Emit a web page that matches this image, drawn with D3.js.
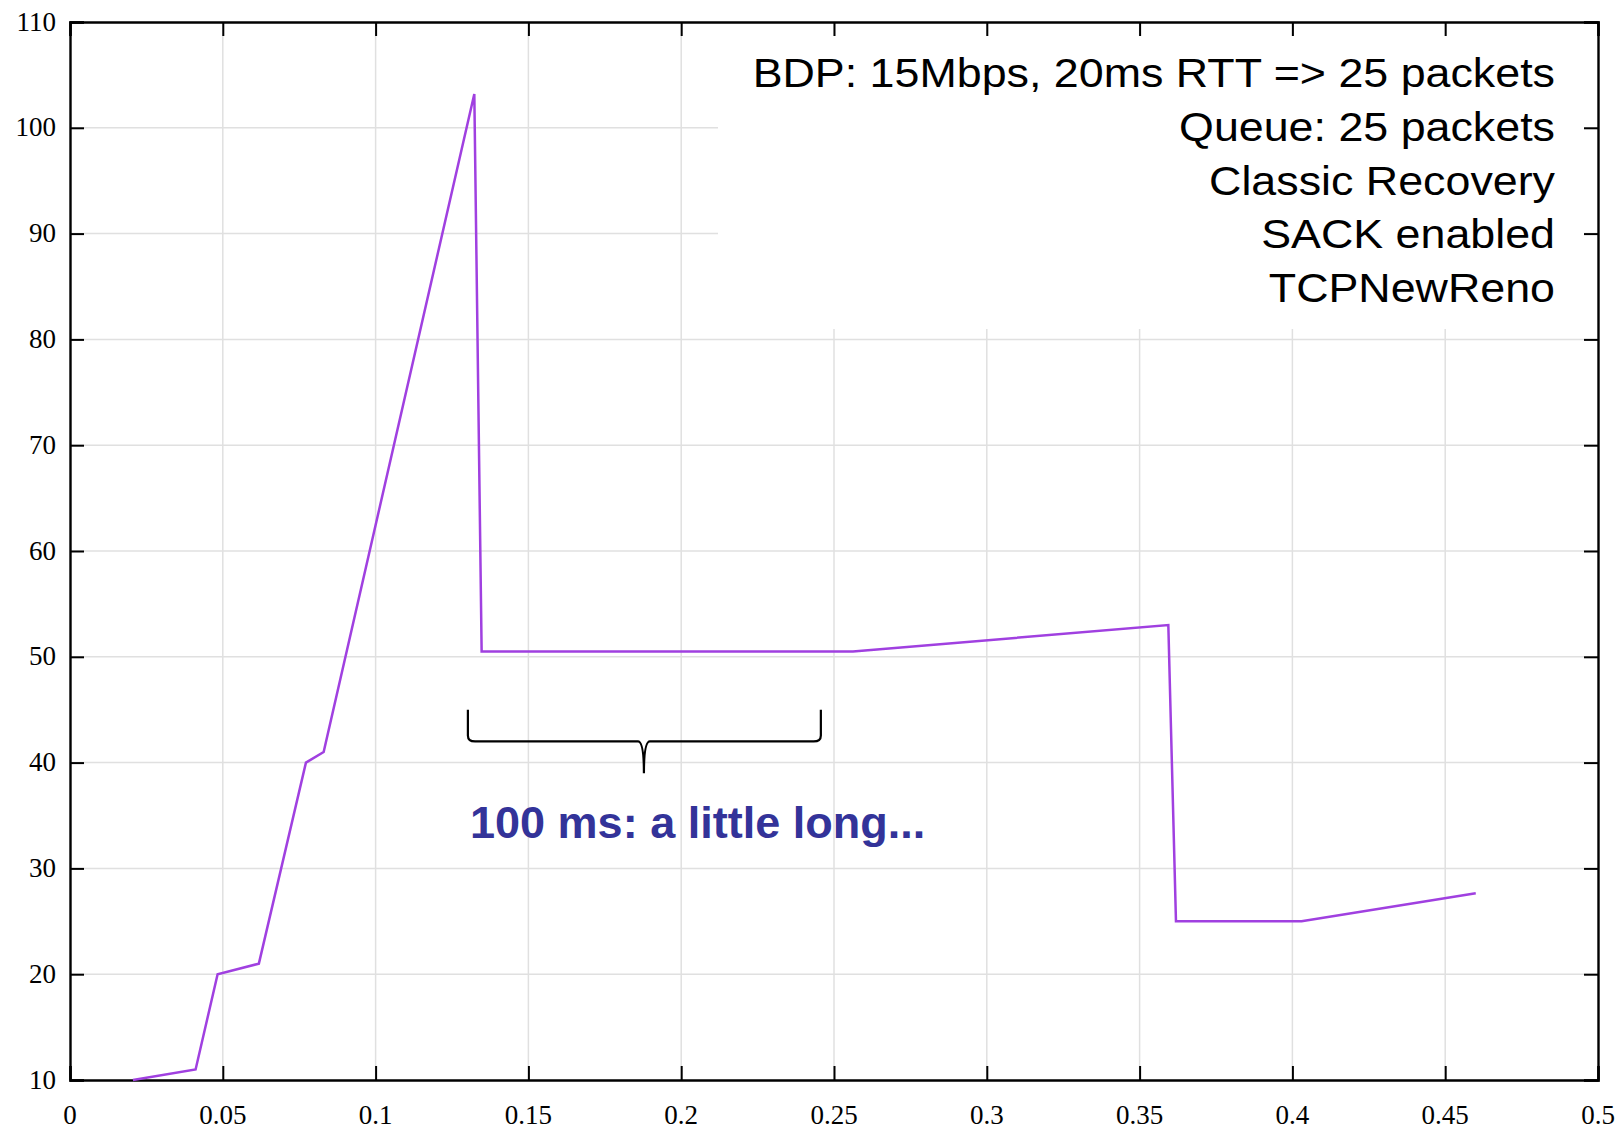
<!DOCTYPE html>
<html>
<head>
<meta charset="utf-8">
<script src="https://cdn.jsdelivr.net/npm/d3@7"></script>
<style>
  body { margin: 0; background: #fff; }
  .tickLabel { font-family: "Liberation Serif", "Times New Roman", serif; font-size: 27px; fill: #000; }
  .infoText { font-family: "Liberation Sans", Arial, sans-serif; font-size: 40px; fill: #000; }
  .noteText { font-family: "Liberation Sans", Arial, sans-serif; font-size: 45px; font-weight: bold; fill: #333399; }
</style>
</head>
<body>
<div id="chart"></div>
<script>
// cwnd trace (packets) vs time (s)
var times = [0.0206, 0.0411, 0.0483, 0.0618, 0.0772, 0.0830, 0.1323, 0.1347, 0.2562, 0.3594, 0.3619, 0.4030, 0.4600];
var cwnd = [10, 11, 20, 21, 40, 41, 103.2, 50.5, 50.5, 53, 25, 25, 27.65];

var xTicks = [0, 0.05, 0.1, 0.15, 0.2, 0.25, 0.3, 0.35, 0.4, 0.45, 0.5];
var yTicks = [10, 20, 30, 40, 50, 60, 70, 80, 90, 100, 110];

var infoLines = ["BDP: 15Mbps, 20ms RTT => 25 packets", "Queue: 25 packets", "Classic Recovery", "SACK enabled", "TCPNewReno"];
var noteLabel = "100 ms: a little long...";
// brace under the flat part: x left/mid/right, y top/bar/tip
var braceX = [0.1302, 0.1878, 0.2457];
var braceY = [45, 42, 39];

var svgWidth = 1621;
var svgHeight = 1132;
var margin = { top: 22, right: 23, bottom: 52, left: 70 };
var width = svgWidth - margin.left - margin.right;
var height = svgHeight - margin.top - margin.bottom;
var tickLen = 14;

var svg = d3.select("#chart")
  .append("svg")
  .attr("width", svgWidth)
  .attr("height", svgHeight);

var chart = svg.append("g")
  .attr("transform", `translate(${margin.left}, ${margin.top})`);

var xLinear = d3.scaleLinear().domain([0, 0.5]).range([0, width]);
var yLinear = d3.scaleLinear().domain([10, 110]).range([height, 0]);

// grid
chart.append("g").selectAll("line.gx")
  .data(xTicks.slice(1, -1))
  .enter()
  .append("line")
  .attr("x1", d => xLinear(d)).attr("x2", d => xLinear(d))
  .attr("y1", 0).attr("y2", height)
  .attr("stroke", "#e0e0e0").attr("stroke-width", 1.5);

chart.append("g").selectAll("line.gy")
  .data(yTicks.slice(1, -1))
  .enter()
  .append("line")
  .attr("x1", 0).attr("x2", width)
  .attr("y1", d => yLinear(d)).attr("y2", d => yLinear(d))
  .attr("stroke", "#e0e0e0").attr("stroke-width", 1.5);

// white box behind the info text
chart.append("rect")
  .attr("x", 648).attr("y", tickLen)
  .attr("width", width - 648 - tickLen).attr("height", 307 - tickLen)
  .attr("fill", "#fff");

// axes: ticks inward on all four sides, labels left and bottom
var bottomAxis = d3.axisBottom(xLinear).tickValues(xTicks).tickSize(-tickLen).tickFormat("");
var topAxis = d3.axisTop(xLinear).tickValues(xTicks).tickSize(-tickLen).tickFormat("");
var leftAxis = d3.axisLeft(yLinear).tickValues(yTicks).tickSize(-tickLen).tickFormat("");
var rightAxis = d3.axisRight(yLinear).tickValues(yTicks).tickSize(-tickLen).tickFormat("");

chart.append("g").attr("transform", `translate(0, ${height})`).call(bottomAxis);
chart.append("g").call(topAxis);
chart.append("g").call(leftAxis);
chart.append("g").attr("transform", `translate(${width}, 0)`).call(rightAxis);

chart.selectAll(".domain").attr("stroke", "#000").attr("stroke-width", 2.4);
chart.selectAll(".tick line").attr("stroke", "#000").attr("stroke-width", 2);

chart.append("g").selectAll("text")
  .data(xTicks)
  .enter()
  .append("text")
  .attr("class", "tickLabel")
  .attr("x", d => xLinear(d))
  .attr("y", height + 44)
  .attr("text-anchor", "middle")
  .text(d => d3.format("")(d));

chart.append("g").selectAll("text")
  .data(yTicks)
  .enter()
  .append("text")
  .attr("class", "tickLabel")
  .attr("x", -14)
  .attr("y", d => yLinear(d))
  .attr("dy", "0.32em")
  .attr("text-anchor", "end")
  .text(d => d);

// cwnd line
var points = times.map((t, i) => [t, cwnd[i]]);
chart.append("path")
  .datum(points)
  .attr("fill", "none")
  .attr("stroke", "#a040e0")
  .attr("stroke-width", 2.5)
  .attr("stroke-linejoin", "miter")
  .attr("d", d3.line().x(d => xLinear(d[0])).y(d => yLinear(d[1])));

// info text, right aligned, slightly wide
chart.append("g").selectAll("text")
  .data(infoLines)
  .enter()
  .append("text")
  .attr("class", "infoText")
  .attr("text-anchor", "end")
  .attr("transform", (d, i) => `translate(${1555 - margin.left}, ${87 - margin.top + i * 53.8}) scale(1.12, 1)`)
  .text(d => d);

// brace
var bl = xLinear(braceX[0]), bm = xLinear(braceX[1]), br = xLinear(braceX[2]);
var bt = yLinear(braceY[0]), bb = yLinear(braceY[1]), btip = yLinear(braceY[2]);
var r = 6;
var bracePath = `M${bl},${bt} L${bl},${bb - r} Q${bl},${bb} ${bl + r * 1.2},${bb}`
  + ` L${bm - r},${bb} Q${bm},${bb} ${bm},${btip}`
  + ` M${bm},${btip} Q${bm},${bb} ${bm + r},${bb}`
  + ` L${br - r * 1.2},${bb} Q${br},${bb} ${br},${bb - r} L${br},${bt}`;
chart.append("path")
  .attr("d", bracePath)
  .attr("fill", "none")
  .attr("stroke", "#000")
  .attr("stroke-width", 2.2);

chart.append("text")
  .attr("class", "noteText")
  .attr("x", xLinear(0.1309))
  .attr("y", yLinear(32.87))
  .text(noteLabel);
</script>
</body>
</html>
